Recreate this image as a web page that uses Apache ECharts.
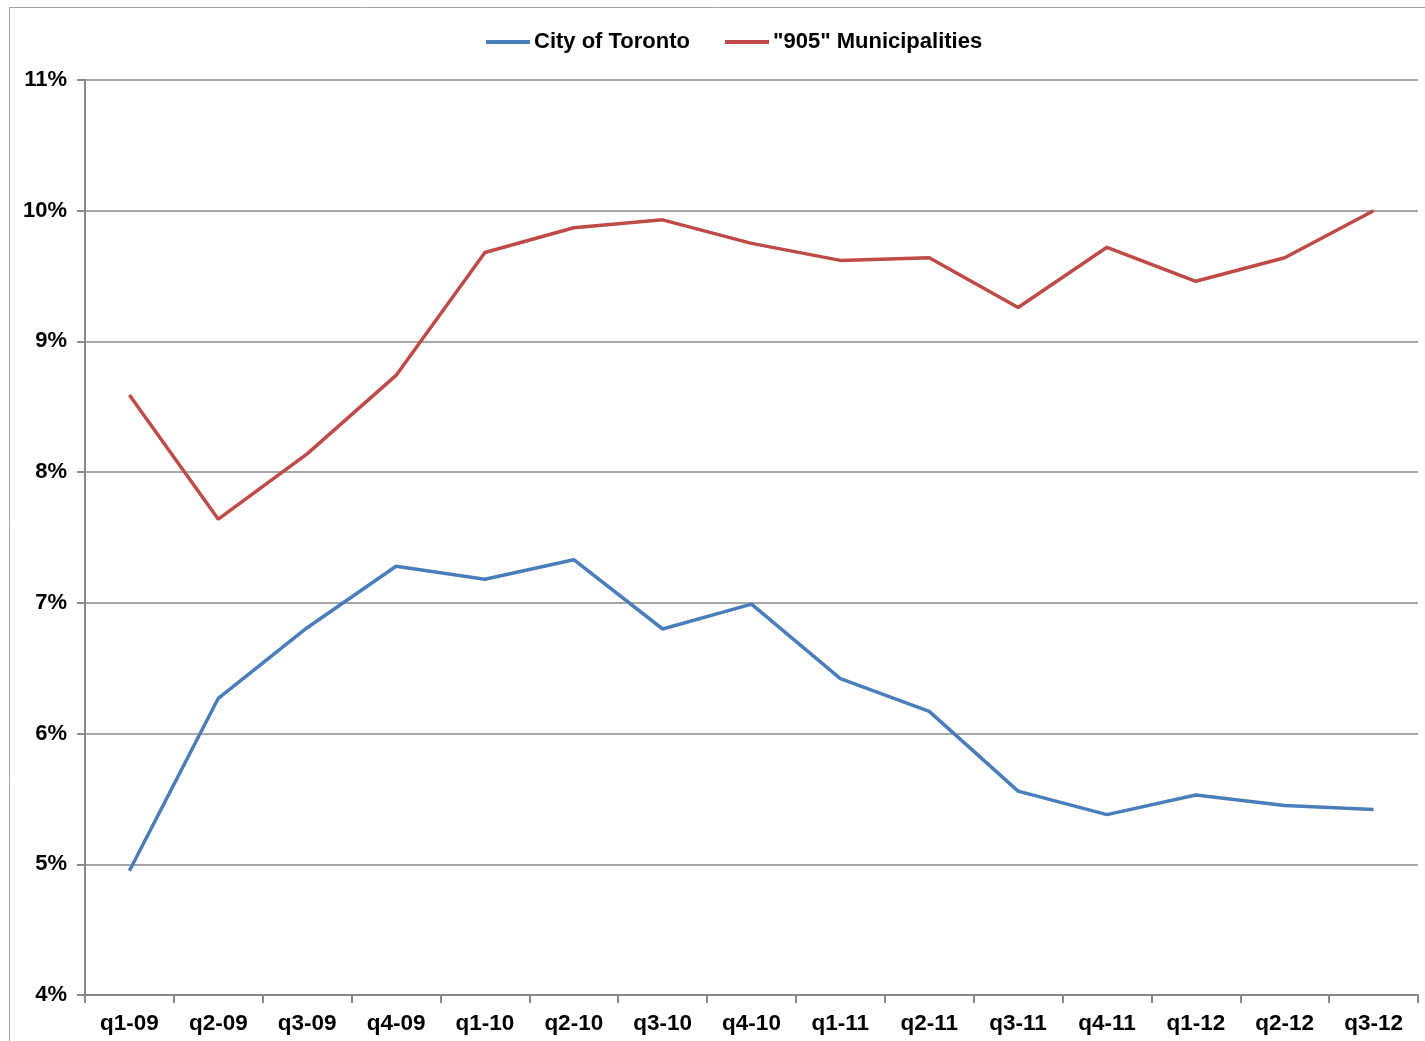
<!DOCTYPE html>
<html><head><meta charset="utf-8">
<script src="https://cdn.jsdelivr.net/npm/echarts@6/dist/echarts.min.js"></script>
<style>html,body{margin:0;padding:0;background:#fff}#c{width:1425px;height:1041px}</style>
</head><body><div id="c"></div>
<script>
const categories = ["q1-09","q2-09","q3-09","q4-09","q1-10","q2-10","q3-10","q4-10","q1-11","q2-11","q3-11","q4-11","q1-12","q2-12","q3-12"];
const toronto = [4.95,6.27,6.81,7.28,7.18,7.33,6.80,6.99,6.42,6.17,5.56,5.38,5.53,5.45,5.42];
const muni905 = [8.59,7.64,8.14,8.74,9.68,9.87,9.93,9.75,9.62,9.64,9.26,9.72,9.46,9.64,10.0];
const chart = echarts.init(document.getElementById('c'));
chart.setOption({
  animation:false,
  textStyle:{fontFamily:'Liberation Sans, Arial, sans-serif'},
  graphic:[{type:'rect',shape:{x:9.5,y:7.5,width:1420,height:1040},style:{fill:null,stroke:'#a0a0a0',lineWidth:1}}],
  legend:{top:26,left:481,itemWidth:44,itemGap:35,icon:'rect',itemHeight:4,
    textStyle:{fontSize:22,fontWeight:'bold',color:'#000',padding:[0,0,0,-1]},
    data:['City of Toronto','"905" Municipalities']},
  grid:{left:85,right:7,top:80,bottom:46},
  xAxis:{type:'category',data:categories,boundaryGap:true,
    axisLine:{lineStyle:{color:'#888',width:2}},
    axisTick:{show:true,length:8,lineStyle:{color:'#888',width:2}},
    axisLabel:{fontSize:22.5,fontWeight:'bold',color:'#000',margin:17}},
  yAxis:{type:'value',min:4,max:11,interval:1,
    axisLine:{show:true,lineStyle:{color:'#888',width:2}},
    axisTick:{show:true,length:8,lineStyle:{color:'#888',width:2}},
    splitLine:{lineStyle:{color:'#888',width:1.5}},
    axisLabel:{fontSize:22,fontWeight:'bold',color:'#000',margin:18,formatter:v=>v+'%'}},
  series:[
    {name:'City of Toronto',type:'line',data:toronto,showSymbol:false,symbol:'none',lineStyle:{color:'#4a7ebb',width:3.5},itemStyle:{color:'#4a7ebb'}},
    {name:'"905" Municipalities',type:'line',data:muni905,showSymbol:false,symbol:'none',lineStyle:{color:'#be4b48',width:3.5},itemStyle:{color:'#be4b48'}}
  ]
});
</script></body></html>
